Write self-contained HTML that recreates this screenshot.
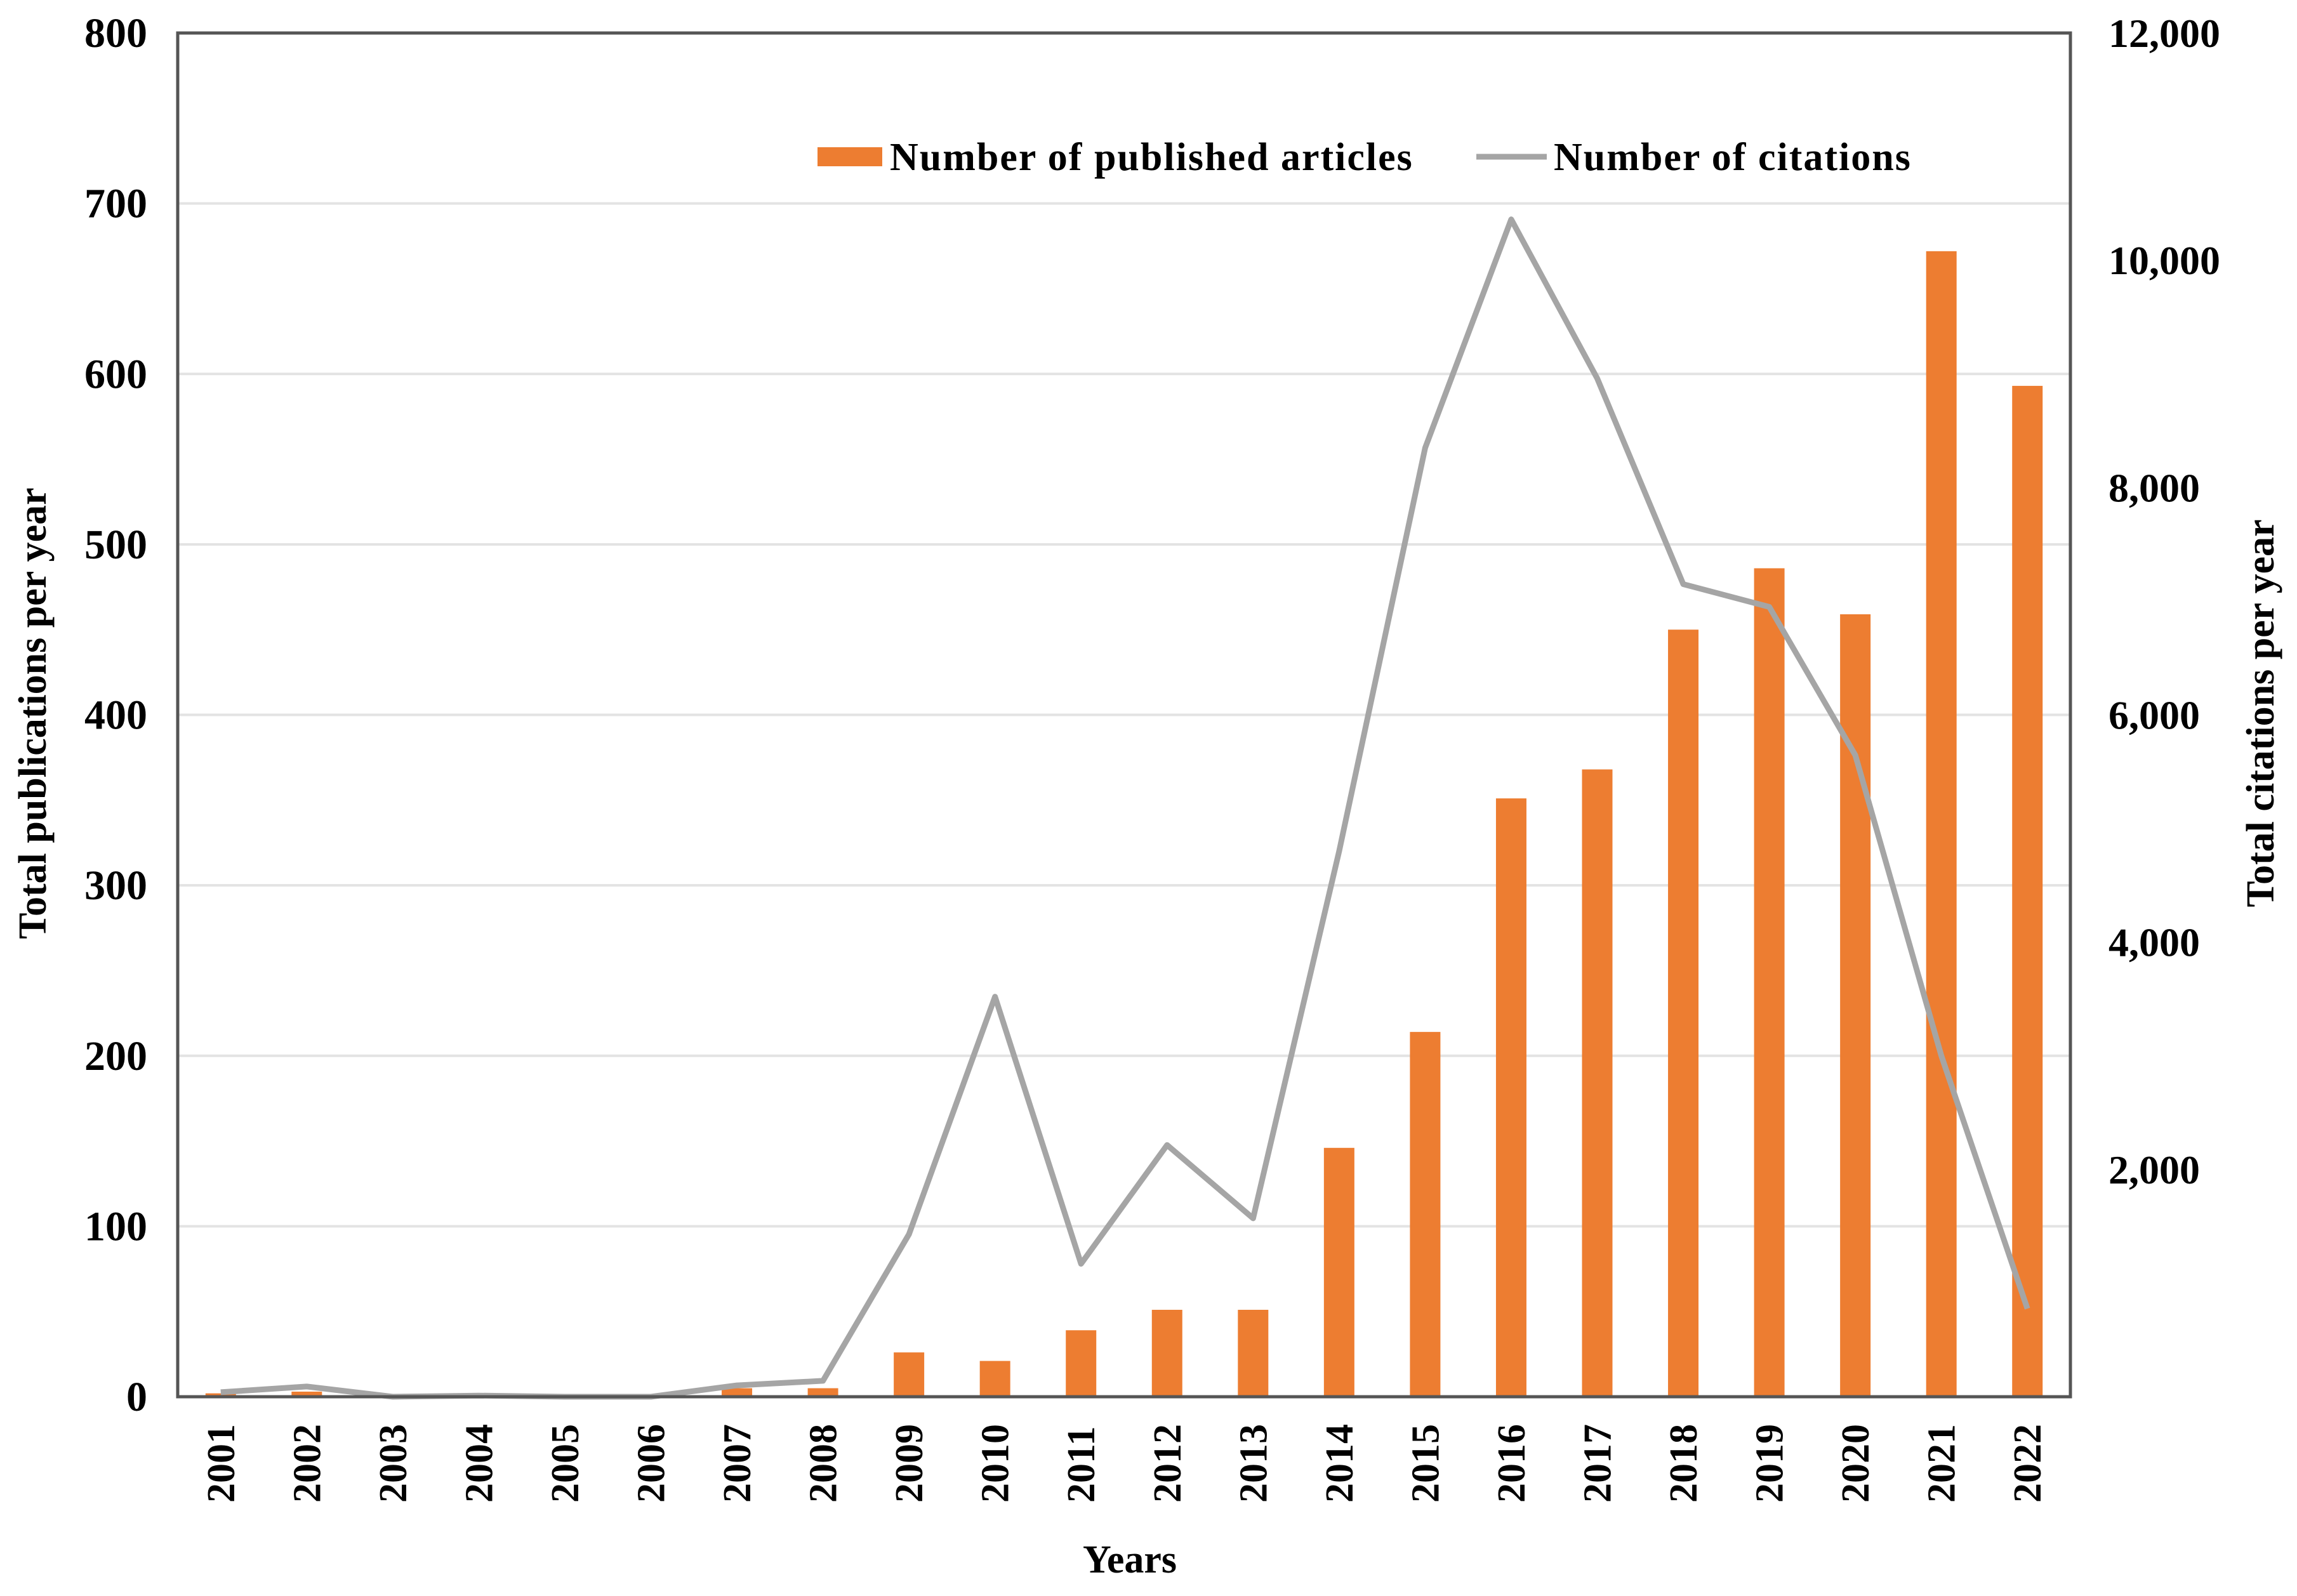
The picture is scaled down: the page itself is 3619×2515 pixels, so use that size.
<!DOCTYPE html>
<html><head><meta charset="utf-8"><style>
html,body{margin:0;padding:0;background:#fff;}
svg text{font-family:"Liberation Serif",serif;font-weight:bold;fill:#000;}
</style></head><body>
<svg id="chart" width="3619" height="2510" viewBox="0 0 3619 2510" xmlns="http://www.w3.org/2000/svg">
<g id="grid"></g>
<g id="bars"></g>
<g id="line"></g>
<rect x="280" y="52" width="2982" height="2149" fill="none" stroke="#555" stroke-width="5"/>
<g id="yl"></g>
<g id="yr"></g>
<g id="xl"></g>
<text x="1780" y="2478" font-size="62" text-anchor="middle">Years</text>
<text transform="translate(72,1124) rotate(-90)" font-size="62" text-anchor="middle">Total publications  per year</text>
<text transform="translate(3582,1124) rotate(-90)" font-size="62" text-anchor="middle">Total citations  per year</text>
<g>
<rect x="1288" y="232" width="102" height="30" fill="#ED7D31"/>
<text x="1402" y="268" font-size="62" letter-spacing="2">Number of published articles</text>
<line x1="2326" y1="247" x2="2437" y2="247" stroke="#A5A5A5" stroke-width="9"/>
<text x="2448" y="268" font-size="62" letter-spacing="2">Number of citations</text>
</g>
</svg>
<script>
const years=["2001","2002","2003","2004","2005","2006","2007","2008","2009","2010","2011","2012","2013","2014","2015","2016","2017","2018","2019","2020","2021","2022"];
const articles=[2,3,0,1,0,1,5,5,26,21,39,51,51,146,214,351,368,450,486,459,672,593];
const citations=[40,90,0,10,0,0,100,140,1430,3520,1170,2215,1570,4800,8350,10360,8960,7150,6950,5645,3000,775];
const leftTicks=[0,100,200,300,400,500,600,700,800];
const rightTicks=["","2,000","4,000","6,000","8,000","10,000","12,000"];
const NS="http://www.w3.org/2000/svg";
const L=280,R=3262,T=52,B=2201;
const bw=(R-L)/years.length;
function xc(i){return L+bw*(i+0.5);}
function yL(v){return B-(v/800)*(B-T);}
function yR(v){return B-(v/12000)*(B-T);}
function mk(tag,attrs,parent){const e=document.createElementNS(NS,tag);for(const k in attrs)e.setAttribute(k,attrs[k]);document.getElementById(parent).appendChild(e);return e;}
leftTicks.forEach((t,i)=>{
  if(t>0){const g=mk('line',{x1:L,x2:R,y1:yL(t),y2:yL(t),stroke:'#e3e3e3','stroke-width':4},'grid');
  
  }
  const tx=mk('text',{x:232,y:yL(t)+22,'font-size':66,'text-anchor':'end'},'yl');
  tx.textContent=t;
  
  
});
rightTicks.forEach((t,i)=>{
  const tx=mk('text',{x:3322,y:yR(i*2000)+22,'font-size':64,'text-anchor':'start'},'yr');
  tx.textContent=t;
  
  
});
years.forEach((y,i)=>{
  const r=mk('rect',{x:xc(i)-24,y:yL(articles[i]),width:48,height:B-yL(articles[i]),fill:'#ED7D31'},'bars');
  
  
  const tx=mk('text',{transform:`translate(${xc(i)+21},2368) rotate(-90)`,'font-size':62,'text-anchor':'start'},'xl');
  tx.textContent=y;
  
  
});
const pts=citations.map((c,i)=>xc(i)+','+yR(c)).join(' ');
const pl=mk('polyline',{points:pts,fill:'none',stroke:'#A5A5A5','stroke-width':9,'stroke-linejoin':'round'},'line');


</script>
</body></html>
